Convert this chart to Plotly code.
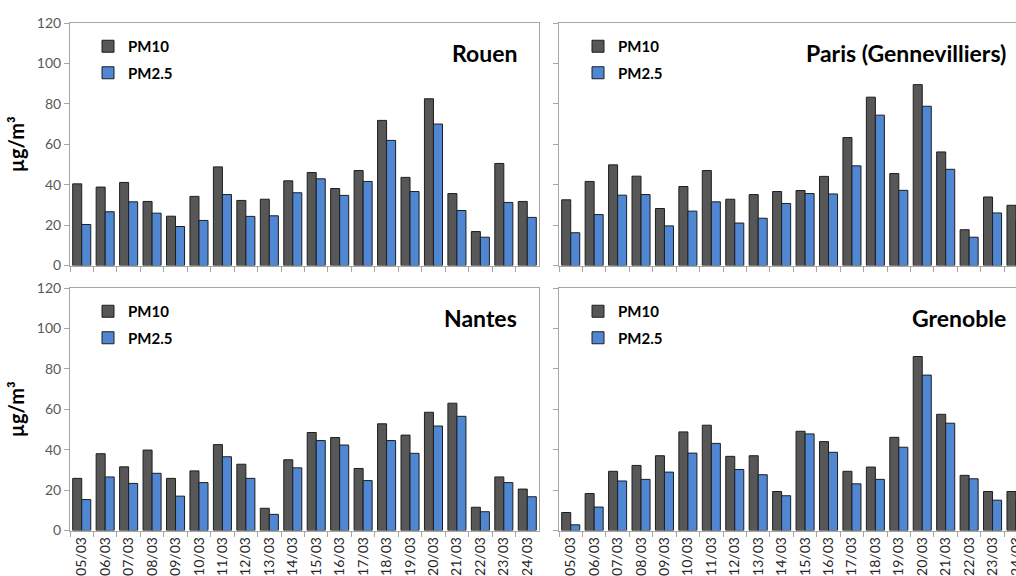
import plotly.graph_objects as go

dates = ["05/03", "06/03", "07/03", "08/03", "09/03", "10/03", "11/03", "12/03", "13/03", "14/03",
         "15/03", "16/03", "17/03", "18/03", "19/03", "20/03", "21/03", "22/03", "23/03", "24/03"]

rouen_pm10 = [40.4, 38.8, 41.1, 31.7, 24.4, 34.2, 48.8, 32.2, 32.8, 41.9,
              46.0, 38.1, 47.0, 71.8, 43.6, 82.5, 35.6, 16.8, 50.5, 31.7]
rouen_pm25 = [20.3, 26.6, 31.5, 25.9, 19.3, 22.3, 35.1, 24.3, 24.6, 36.0,
              42.9, 34.7, 41.6, 61.9, 36.6, 70.0, 27.2, 14.0, 31.2, 23.8]

paris_pm10 = [32.5, 41.6, 49.8, 44.2, 28.2, 39.1, 47.0, 32.8, 35.1, 36.6,
              37.1, 44.1, 63.3, 83.3, 45.5, 89.5, 56.2, 17.7, 33.9, 29.8]
paris_pm25 = [16.2, 25.2, 34.8, 35.1, 19.6, 26.9, 31.5, 21.0, 23.4, 30.7,
              35.6, 35.4, 49.3, 74.4, 37.2, 78.8, 47.6, 14.0, 26.0, 22.0]

nantes_pm10 = [25.8, 38.0, 31.5, 39.8, 25.8, 29.5, 42.5, 32.8, 11.0, 35.0,
               48.5, 46.0, 30.7, 52.8, 47.2, 58.5, 63.0, 11.5, 26.5, 20.5]
nantes_pm25 = [15.3, 26.5, 23.3, 28.3, 17.0, 23.7, 36.5, 25.8, 8.0, 31.0,
               44.5, 42.3, 24.7, 44.5, 38.2, 51.7, 56.5, 9.3, 23.7, 16.7]

grenoble_pm10 = [8.9, 18.3, 29.3, 32.2, 37.0, 48.8, 52.1, 36.7, 37.0, 19.3,
                 49.1, 44.0, 29.3, 31.4, 46.1, 86.1, 57.5, 27.3, 19.3, 19.3]
grenoble_pm25 = [2.8, 11.6, 24.5, 25.3, 28.9, 38.3, 43.1, 30.2, 27.6, 17.2,
                 47.8, 38.7, 23.1, 25.3, 41.2, 76.9, 53.1, 25.6, 15.0, 15.0]

cities = ["Rouen", "Paris (Gennevilliers)", "Nantes", "Grenoble"]
series_names = ["PM10", "PM2.5"]
y_ticks = [0, 20, 40, 60, 80, 100, 120]
y_title = "µg/m³"

W, H = 1016, 576
C_PM10 = "#575757"
C_PM25 = "#4f87d2"
AXIS_C = "#a6a6a6"
FONT = "Lato"


def fx(p):
    return p / W


def fy(p):
    return 1 - p / H


panels = [
    dict(city=cities[0], pm10=rouen_pm10, pm25=rouen_pm25, left=True, top=True),
    dict(city=cities[1], pm10=paris_pm10, pm25=paris_pm25, left=False, top=True),
    dict(city=cities[2], pm10=nantes_pm10, pm25=nantes_pm25, left=True, top=False),
    dict(city=cities[3], pm10=grenoble_pm10, pm25=grenoble_pm25, left=False, top=False),
]

fig = go.Figure()
layout = {}
annotations = []

for i, p in enumerate(panels, start=1):
    sx = "" if i == 1 else str(i)
    leg = "legend" + sx
    xd = [fx(70), fx(539)] if p["left"] else [fx(559), 1.0]
    yd = [fy(265.5), fy(23)] if p["top"] else [fy(530.5), fy(288)]
    for vals, nm, col in ((p["pm10"], series_names[0], C_PM10), (p["pm25"], series_names[1], C_PM25)):
        fig.add_trace(go.Bar(
            x=dates, y=vals, name=nm, xaxis="x" + sx, yaxis="y" + sx,
            marker=dict(color=col, line=dict(color="#1e1e1e", width=1)),
            legend=leg, legendgroup=f"{leg}_{nm}", showlegend=True,
            hovertemplate="%{x}: %{y}<extra>" + nm + "</extra>",
        ))
    layout["xaxis" + sx] = dict(
        domain=xd, anchor="y" + sx, type="category", automargin=False,
        range=[-0.5, 19.5] if p["left"] else [-0.5, 19.0],
        showline=True, linecolor=AXIS_C, linewidth=1, mirror=True,
        ticks="outside", tickson="boundaries", ticklen=5, tickcolor=AXIS_C,
        showgrid=False, zeroline=False,
        showticklabels=not p["top"], tickangle=-90,
        tickfont=dict(family=FONT, size=14, color="#262626"),
        fixedrange=True,
    )
    layout["yaxis" + sx] = dict(
        domain=yd, anchor="x" + sx, range=[0, 120], tickvals=y_ticks, automargin=False,
        showline=True, linecolor=AXIS_C, linewidth=1, mirror=p["left"],
        ticks="outside", ticklen=5, tickcolor=AXIS_C,
        showgrid=False, zeroline=False,
        showticklabels=p["left"],
        tickfont=dict(family=FONT, size=14, color="#595959"),
        title=dict(text=y_title if p["left"] else "",
                   font=dict(family=FONT, size=20, color="#000000", weight="bold"),
                   standoff=6),
        fixedrange=True,
    )
    lx = 88 if p["left"] else 578
    ly = 30 if p["top"] else 295
    layout[leg] = dict(
        x=fx(lx), y=fy(ly), xanchor="left", yanchor="top",
        bgcolor="rgba(0,0,0,0)", borderwidth=0,
        font=dict(family=FONT, size=15, color="#000000", weight="bold"),
        traceorder="grouped", tracegroupgap=4, itemwidth=30,
    )
    tx = 519 if p["left"] else 1008
    ty = 53 if p["top"] else 318
    annotations.append(dict(
        text=p["city"], xref="paper", yref="paper", x=fx(tx), y=fy(ty),
        xanchor="right", yanchor="middle", showarrow=False,
        font=dict(family=FONT, size=23, color="#000000", weight="bold"),
    ))

fig.update_layout(
    width=W, height=H,
    margin=dict(l=0, r=0, t=0, b=0),
    paper_bgcolor="white", plot_bgcolor="white",
    barmode="group", bargap=0.23, bargroupgap=0.0,
    annotations=annotations,
    **layout,
)

fig.write_html("out.html")
